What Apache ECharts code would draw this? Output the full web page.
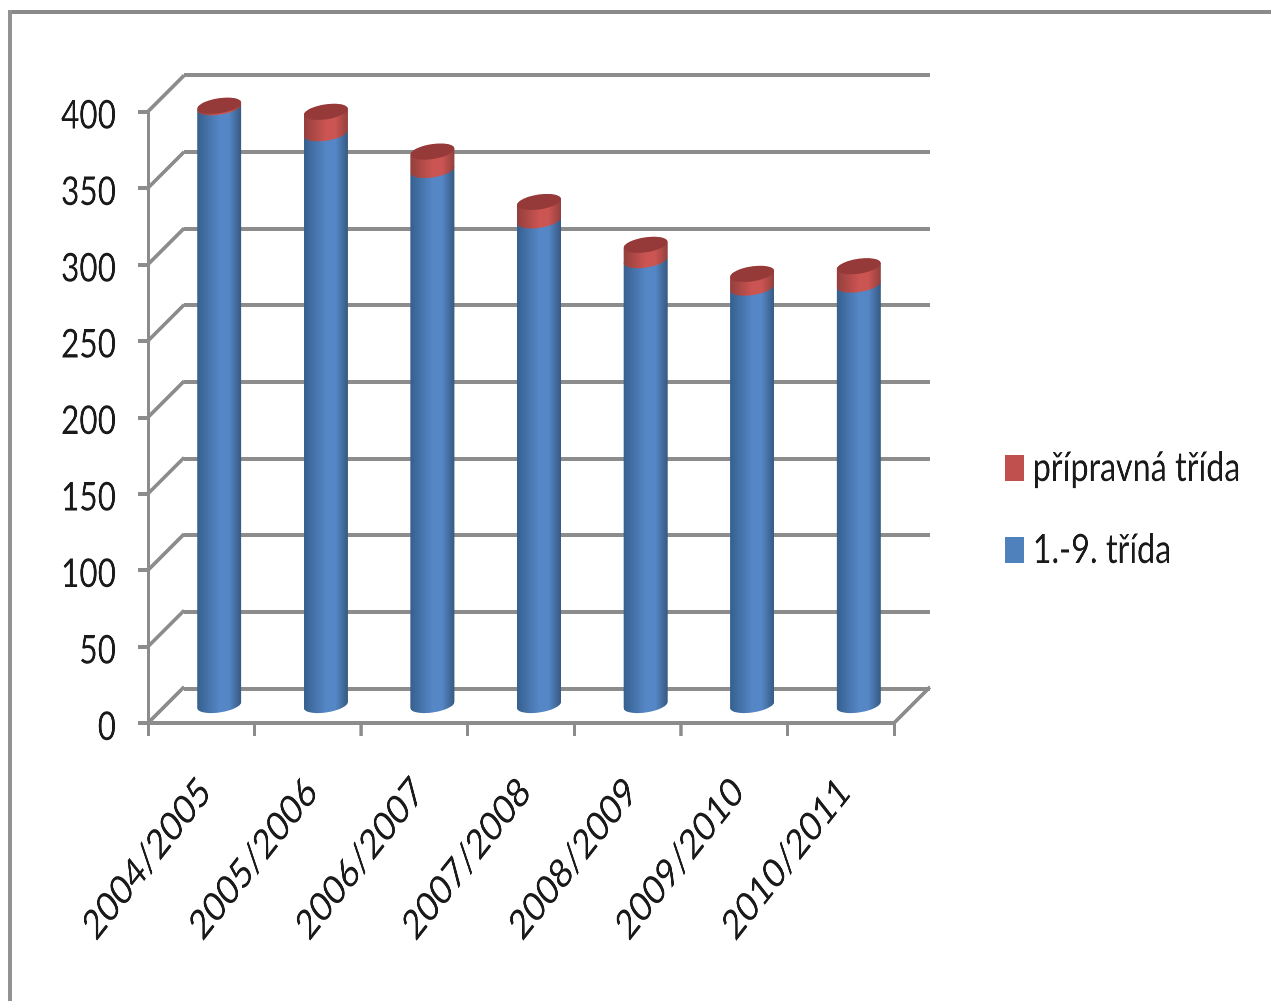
<!DOCTYPE html>
<html>
<head>
<meta charset="utf-8">
<style>
html,body{margin:0;padding:0;background:#fff;overflow:hidden;width:1271px;height:1001px}
#c{width:1609px;height:1001px;transform:scaleX(0.79);transform-origin:0 0;filter:blur(0.5px)}
</style>
<script src="https://cdn.jsdelivr.net/npm/echarts@6/dist/echarts.min.js"></script>
</head>
<body>
<div id="c"></div>
<script>
const years = ['2004/2005','2005/2006','2006/2007','2007/2008','2008/2009','2009/2010','2010/2011'];
const classes = [391,374,350,317,291,273,275];
const prep = [1,14,12,12,10,9,12];
const yTicks = [0,50,100,150,200,250,300,350,400];
const nameBlue = '1.-9. třída';
const namePrep = 'přípravná třída';

const SX = 0.79;
const px = (x) => x / SX;
const FONT = 'Lato,"Liberation Sans",sans-serif';
const GREY = '#8c8c8c';
const DX = px(36), DY = 36, RX = px(22), RY = 7.5, TILT = 3;

function arc(cx, cy, from, to) {
  const pts = [];
  for (let k = 0; k <= 24; k++) {
    const t = from + (to - from) * k / 24;
    pts.push([cx + RX * Math.cos(t), cy + RY * Math.sin(t) - TILT * Math.cos(t)]);
  }
  return pts;
}
function grad(a, b, c) {
  return new echarts.graphic.LinearGradient(0, 0, 1, 0, [
    {offset: 0, color: a}, {offset: 0.5, color: b}, {offset: 0.72, color: b}, {offset: 1, color: c}
  ]);
}
function centre(api, cat, v) {
  const p = api.coord([cat, v]);
  return [p[0] + DX / 2, p[1] - DY / 2];
}
function renderBlue(params, api) {
  const i = api.value(0);
  const a = centre(api, i, 0), b = centre(api, i, api.value(1));
  const pts = arc(a[0], a[1], 0, Math.PI).concat(arc(b[0], b[1], Math.PI, 2 * Math.PI));
  return {type: 'polygon', shape: {points: pts},
    style: {fill: grad('#36608f', '#5587c6', '#365a82')}};
}
function renderPrep(params, api) {
  const i = api.value(0), lo = api.value(1), top = lo + api.value(2);
  const a = centre(api, i, lo), b = centre(api, i, top);
  const pts = arc(a[0], a[1], 0, Math.PI).concat(arc(b[0], b[1], Math.PI, 2 * Math.PI));
  return {type: 'group', children: [
    {type: 'polygon', shape: {points: pts}, style: {fill: grad('#943f3d', '#cb5552', '#94403e')}},
    {type: 'polygon', shape: {points: arc(b[0], b[1], 0, 2 * Math.PI)}, style: {fill: '#953a38'}}
  ]};
}
function renderDiagonal(params, api) {
  const cs = params.coordSys, y = api.coord([0, api.value(1)])[1];
  const line = (x) => ({type: 'line', shape: {x1: x, y1: y, x2: x + DX, y2: y - DY},
    style: {stroke: GREY, lineWidth: 4}});
  const kids = [line(cs.x)];
  if (api.value(1) === 0) kids.push(line(cs.x + cs.width));
  return {type: 'group', children: kids};
}

const chart = echarts.init(document.getElementById('c'), null, {renderer: 'canvas', devicePixelRatio: 2});
chart.setOption({
  animation: false,
  backgroundColor: '#fff',
  graphic: [
    {type: 'line', shape: {x1: px(8), y1: 12, x2: px(1271), y2: 12}, style: {stroke: '#8a8a8a', lineWidth: 4}},
    {type: 'line', shape: {x1: px(10), y1: 10, x2: px(10), y2: 1001}, style: {stroke: '#929292', lineWidth: 5}}
  ],
  legend: {
    left: px(1005), top: 447.5, padding: 0, orient: 'vertical', itemWidth: px(19), itemHeight: 26, itemGap: 41,
    icon: 'rect', data: [namePrep, nameBlue],
    textStyle: {fontFamily: FONT, fontSize: 41, color: '#1a1a1a', padding: [0, 0, 0, 6]}
  },
  grid: [
    {left: px(148), top: 111.5, width: px(746), height: 611.5},
    {left: px(184), top: 75, width: px(746), height: 613.5}
  ],
  xAxis: [
    {type: 'category', gridIndex: 0, data: years, boundaryGap: true,
      axisLine: {lineStyle: {color: GREY, width: 4}},
      axisTick: {show: true, length: 13, lineStyle: {color: GREY, width: 4}},
      axisLabel: {rotate: 45, interval: 0, margin: 67, padding: [0, -7, 0, 0], fontFamily: FONT, fontSize: 41, color: '#1a1a1a'}},
    {type: 'category', gridIndex: 1, data: years, show: false}
  ],
  yAxis: [
    {type: 'value', gridIndex: 0, min: 0, max: 400, interval: 50,
      axisLine: {show: true, lineStyle: {color: GREY, width: 4}},
      axisTick: {show: true, length: px(10), lineStyle: {color: GREY, width: 4}},
      splitLine: {show: false},
      axisLabel: {margin: px(32), verticalAlign: 'top', lineHeight: 8, fontFamily: FONT, fontSize: 40, color: '#1a1a1a',
        formatter: (v) => yTicks.includes(v) ? String(v) : ''}},
    {type: 'value', gridIndex: 1, min: 0, max: 400, interval: 50,
      axisLine: {show: false}, axisTick: {show: false}, axisLabel: {show: false},
      splitLine: {show: true, lineStyle: {color: GREY, width: 4}}}
  ],
  series: [
    {type: 'custom', xAxisIndex: 0, yAxisIndex: 0, z: 1, silent: true, clip: false,
      encode: {x: 0, y: 1}, renderItem: renderDiagonal,
      data: yTicks.map((v) => [0, v])},
    {name: nameBlue, type: 'custom', xAxisIndex: 0, yAxisIndex: 0, z: 3, clip: false,
      itemStyle: {color: '#4f81bd'}, encode: {x: 0, y: 1}, renderItem: renderBlue,
      data: classes.map((v, i) => [i, v])},
    {name: namePrep, type: 'custom', xAxisIndex: 0, yAxisIndex: 0, z: 4, clip: false,
      itemStyle: {color: '#c0504d'}, encode: {x: 0, y: [1, 2]}, renderItem: renderPrep,
      data: prep.map((v, i) => [i, classes[i], v])}
  ]
});
</script>
</body>
</html>
